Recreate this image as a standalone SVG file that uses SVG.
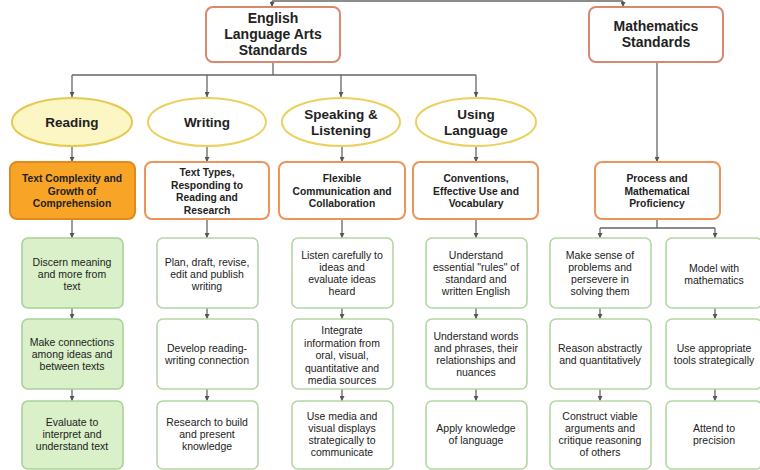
<svg xmlns="http://www.w3.org/2000/svg" width="760" height="470" viewBox="0 0 760 470">
  <defs>
    <marker id="arrow" viewBox="0 0 6 6" refX="6" refY="3" markerWidth="5" markerHeight="5" markerUnits="userSpaceOnUse" orient="auto">
      <path d="M0,0 L6,3 L0,6 Z" fill="#555"/>
    </marker>
    <style>
      .t { font-family: "Liberation Sans", Arial, sans-serif; fill: #222; text-anchor: middle; }
      .h1 { font-size: 14px; font-weight: bold; }
      .h2 { font-size: 13.5px; font-weight: bold; }
      .h3 { font-size: 10.3px; font-weight: bold; }
      .b { font-size: 10.5px; }
      .top { fill: #fff; stroke: #d9876e; stroke-width: 2; }
      .ell { fill: #fff; stroke: #ecd060; stroke-width: 2; }
      .ell-on { fill: #fcf6c4; stroke: #e6c94e; stroke-width: 2; }
      .mid { fill: #fff; stroke: #ec9459; stroke-width: 2; }
      .mid-on { fill: #f8a426; stroke: #e0891c; stroke-width: 2; }
      .leaf { fill: #fff; stroke: #b4d6a6; stroke-width: 1.6; }
      .leaf-on { fill: #d9f0c8; stroke: #a9d198; stroke-width: 1.6; }
      .c { fill: none; stroke: #666; stroke-width: 1.3; }
      .ca { fill: none; stroke: #666; stroke-width: 1.3; marker-end: url(#arrow); }
    </style>
  </defs>

  <!-- connectors -->
  <g id="connectors">
    <path class="c" d="M272,1 H623"/>
    <path class="ca" d="M272,1 V7"/>
    <path class="ca" d="M623,1 V7"/>

    <path class="c" d="M273,62 V75 M72,75 H476"/>
    <path class="ca" d="M72,75 V97"/>
    <path class="ca" d="M207,75 V97"/>
    <path class="ca" d="M341,75 V97"/>
    <path class="ca" d="M476,75 V97"/>

    <path class="ca" d="M72,146 V162"/>
    <path class="ca" d="M207,146 V162"/>
    <path class="ca" d="M342,146 V162"/>
    <path class="ca" d="M476,146 V162"/>
    <path class="ca" d="M657,62 V162"/>

    <path class="ca" d="M72,219 V238"/>
    <path class="ca" d="M207,219 V238"/>
    <path class="ca" d="M342,219 V238"/>
    <path class="ca" d="M476,219 V238"/>
    <path class="c" d="M657,219 V228 M600,228 H715"/>
    <path class="ca" d="M600,228 V238"/>
    <path class="ca" d="M715,228 V238"/>

    <path class="ca" d="M72,308 V319"/>
    <path class="ca" d="M207,308 V319"/>
    <path class="ca" d="M342,308 V319"/>
    <path class="ca" d="M476,308 V319"/>
    <path class="ca" d="M600,308 V319"/>
    <path class="ca" d="M715,308 V319"/>

    <path class="ca" d="M72,389 V401"/>
    <path class="ca" d="M207,389 V401"/>
    <path class="ca" d="M342,389 V401"/>
    <path class="ca" d="M476,389 V401"/>
    <path class="ca" d="M600,389 V401"/>
    <path class="ca" d="M715,389 V401"/>
  </g>

  <!-- standards -->
  <g id="ela">
    <rect class="top" x="206" y="7" width="134" height="55" rx="7"/>
    <text class="t h1" x="273" y="23">English</text>
    <text class="t h1" x="273" y="39">Language Arts</text>
    <text class="t h1" x="273" y="55">Standards</text>
  </g>
  <g id="math">
    <rect class="top" x="589" y="7" width="134" height="55" rx="7"/>
    <text class="t h1" x="656" y="31">Mathematics</text>
    <text class="t h1" x="656" y="47">Standards</text>
  </g>

  <!-- strands -->
  <g id="reading">
    <ellipse class="ell-on" cx="72" cy="122" rx="60" ry="24"/>
    <text class="t h2" x="72" y="127">Reading</text>
  </g>
  <g id="writing">
    <ellipse class="ell" cx="207" cy="122" rx="59" ry="24"/>
    <text class="t h2" x="207" y="127">Writing</text>
  </g>
  <g id="speaking">
    <ellipse class="ell" cx="341" cy="122" rx="59" ry="24"/>
    <text class="t h2" x="341" y="119">Speaking &amp;</text>
    <text class="t h2" x="341" y="135">Listening</text>
  </g>
  <g id="language">
    <ellipse class="ell" cx="476" cy="122" rx="60" ry="24"/>
    <text class="t h2" x="476" y="119">Using</text>
    <text class="t h2" x="476" y="135">Language</text>
  </g>

  <!-- anchor areas -->
  <g id="complexity">
    <rect class="mid-on" x="10" y="162" width="125" height="57" rx="7"/>
    <text class="t h3" x="72" y="182">Text Complexity and</text>
    <text class="t h3" x="72" y="194.5">Growth of</text>
    <text class="t h3" x="72" y="207">Comprehension</text>
  </g>
  <g id="text-types">
    <rect class="mid" x="145" y="162" width="124" height="57" rx="7"/>
    <text class="t h3" x="207" y="176">Text Types,</text>
    <text class="t h3" x="207" y="188.5">Responding to</text>
    <text class="t h3" x="207" y="201">Reading and</text>
    <text class="t h3" x="207" y="213.5">Research</text>
  </g>
  <g id="flexible">
    <rect class="mid" x="279" y="162" width="126" height="57" rx="7"/>
    <text class="t h3" x="342" y="182">Flexible</text>
    <text class="t h3" x="342" y="194.5">Communication and</text>
    <text class="t h3" x="342" y="207">Collaboration</text>
  </g>
  <g id="conventions">
    <rect class="mid" x="413" y="162" width="125" height="57" rx="7"/>
    <text class="t h3" x="476" y="182">Conventions,</text>
    <text class="t h3" x="476" y="194.5">Effective Use and</text>
    <text class="t h3" x="476" y="207">Vocabulary</text>
  </g>
  <g id="process">
    <rect class="mid" x="595" y="162" width="125" height="57" rx="7"/>
    <text class="t h3" x="657" y="182">Process and</text>
    <text class="t h3" x="657" y="194.5">Mathematical</text>
    <text class="t h3" x="657" y="207">Proficiency</text>
  </g>

  <!-- reading leaves -->
  <g id="r1">
    <rect class="leaf-on" x="22" y="238" width="101" height="70" rx="6"/>
    <text class="t b" x="72" y="266">Discern meaning</text>
    <text class="t b" x="72" y="278">and more from</text>
    <text class="t b" x="72" y="290">text</text>
  </g>
  <g id="r2">
    <rect class="leaf-on" x="22" y="319" width="101" height="70" rx="6"/>
    <text class="t b" x="72" y="346">Make connections</text>
    <text class="t b" x="72" y="358">among ideas and</text>
    <text class="t b" x="72" y="370">between texts</text>
  </g>
  <g id="r3">
    <rect class="leaf-on" x="22" y="401" width="101" height="68" rx="6"/>
    <text class="t b" x="72" y="426">Evaluate to</text>
    <text class="t b" x="72" y="438">interpret and</text>
    <text class="t b" x="72" y="450">understand text</text>
  </g>

  <!-- writing leaves -->
  <g id="w1">
    <rect class="leaf" x="157" y="238" width="101" height="70" rx="6"/>
    <text class="t b" x="207" y="266">Plan, draft, revise,</text>
    <text class="t b" x="207" y="278">edit and publish</text>
    <text class="t b" x="207" y="290">writing</text>
  </g>
  <g id="w2">
    <rect class="leaf" x="157" y="319" width="101" height="70" rx="6"/>
    <text class="t b" x="207" y="352">Develop reading-</text>
    <text class="t b" x="207" y="364">writing connection</text>
  </g>
  <g id="w3">
    <rect class="leaf" x="157" y="401" width="101" height="68" rx="6"/>
    <text class="t b" x="207" y="426">Research to build</text>
    <text class="t b" x="207" y="438">and present</text>
    <text class="t b" x="207" y="450">knowledge</text>
  </g>

  <!-- speaking leaves -->
  <g id="s1">
    <rect class="leaf" x="292" y="238" width="101" height="70" rx="6"/>
    <text class="t b" x="342" y="259">Listen carefully to</text>
    <text class="t b" x="342" y="271">ideas and</text>
    <text class="t b" x="342" y="283">evaluate ideas</text>
    <text class="t b" x="342" y="295">heard</text>
  </g>
  <g id="s2">
    <rect class="leaf" x="292" y="319" width="101" height="70" rx="6"/>
    <text class="t b" x="342" y="334">Integrate</text>
    <text class="t b" x="342" y="346.5">information from</text>
    <text class="t b" x="342" y="359">oral, visual,</text>
    <text class="t b" x="342" y="371.5">quantitative and</text>
    <text class="t b" x="342" y="384">media sources</text>
  </g>
  <g id="s3">
    <rect class="leaf" x="292" y="401" width="101" height="68" rx="6"/>
    <text class="t b" x="342" y="420">Use media and</text>
    <text class="t b" x="342" y="432">visual displays</text>
    <text class="t b" x="342" y="444">strategically to</text>
    <text class="t b" x="342" y="456">communicate</text>
  </g>

  <!-- language leaves -->
  <g id="l1">
    <rect class="leaf" x="426" y="238" width="101" height="70" rx="6"/>
    <text class="t b" x="476" y="259">Understand</text>
    <text class="t b" x="476" y="271">essential "rules" of</text>
    <text class="t b" x="476" y="283">standard and</text>
    <text class="t b" x="476" y="295">written English</text>
  </g>
  <g id="l2">
    <rect class="leaf" x="426" y="319" width="101" height="70" rx="6"/>
    <text class="t b" x="476" y="340">Understand words</text>
    <text class="t b" x="476" y="352">and phrases, their</text>
    <text class="t b" x="476" y="364">relationships and</text>
    <text class="t b" x="476" y="376">nuances</text>
  </g>
  <g id="l3">
    <rect class="leaf" x="426" y="401" width="101" height="68" rx="6"/>
    <text class="t b" x="476" y="432">Apply knowledge</text>
    <text class="t b" x="476" y="444">of language</text>
  </g>

  <!-- mathematics leaves -->
  <g id="m1">
    <rect class="leaf" x="550" y="238" width="101" height="70" rx="6"/>
    <text class="t b" x="600" y="259">Make sense of</text>
    <text class="t b" x="600" y="271">problems and</text>
    <text class="t b" x="600" y="283">persevere in</text>
    <text class="t b" x="600" y="295">solving them</text>
  </g>
  <g id="m2">
    <rect class="leaf" x="666" y="238" width="96" height="70" rx="6"/>
    <text class="t b" x="714" y="272">Model with</text>
    <text class="t b" x="714" y="284">mathematics</text>
  </g>
  <g id="m3">
    <rect class="leaf" x="550" y="319" width="101" height="70" rx="6"/>
    <text class="t b" x="600" y="352">Reason abstractly</text>
    <text class="t b" x="600" y="364">and quantitatively</text>
  </g>
  <g id="m4">
    <rect class="leaf" x="666" y="319" width="96" height="70" rx="6"/>
    <text class="t b" x="714" y="352">Use appropriate</text>
    <text class="t b" x="714" y="364">tools strategically</text>
  </g>
  <g id="m5">
    <rect class="leaf" x="550" y="401" width="101" height="68" rx="6"/>
    <text class="t b" x="600" y="420">Construct viable</text>
    <text class="t b" x="600" y="432">arguments and</text>
    <text class="t b" x="600" y="444">critique reasoning</text>
    <text class="t b" x="600" y="456">of others</text>
  </g>
  <g id="m6">
    <rect class="leaf" x="666" y="401" width="96" height="68" rx="6"/>
    <text class="t b" x="714" y="432">Attend to</text>
    <text class="t b" x="714" y="444">precision</text>
  </g>
</svg>
